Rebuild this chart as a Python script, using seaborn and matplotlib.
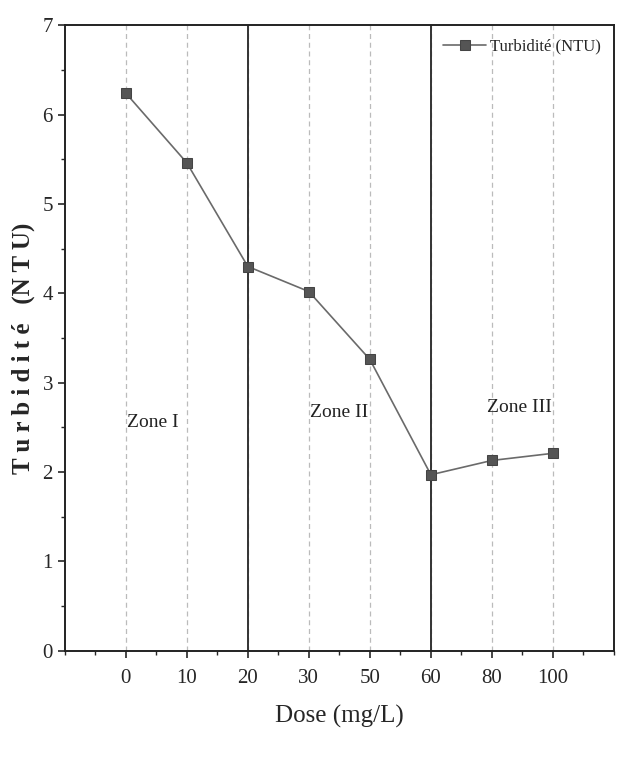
import pandas as pd
import matplotlib.pyplot as plt
import seaborn as sns
from matplotlib.ticker import MultipleLocator

# Données
doses = ["0", "10", "20", "30", "50", "60", "80", "100"]
turbidite = [6.24, 5.46, 4.30, 4.02, 3.26, 1.97, 2.13, 2.21]
zones = ["Zone I", "Zone II", "Zone III"]
zone_x = [0.45, 3.5, 6.45]
zone_y = [2.55, 2.67, 2.72]
limites = ["20", "60"]

df = pd.DataFrame({"Dose": doses, "Turbidite": turbidite})

sns.set_theme(style="ticks")
plt.rcParams["font.family"] = ["Liberation Serif", "DejaVu Serif"]

fig, ax = plt.subplots(figsize=(6.17, 7.63), dpi=100)
fig.subplots_adjust(left=0.105, right=0.995, top=0.967, bottom=0.147)

sns.lineplot(data=df, x="Dose", y="Turbidite", marker="s", markersize=7,
             color="#6a6a6a", markerfacecolor="#555555", markeredgecolor="#444444",
             linewidth=1.2, label="Turbidité (NTU)", ax=ax, sort=False)

# grille verticale pointillée
for i in range(len(doses)):
    ax.axvline(i, color="#bbbbbb", linestyle=(0, (4, 3)), linewidth=0.9, zorder=0)

# limites des zones
for d in limites:
    ax.axvline(doses.index(d), color="#333333", linewidth=1.4, zorder=1)

for z, x, y in zip(zones, zone_x, zone_y):
    ax.text(x, y, z, ha="center", va="center", fontsize=14, color="#222222")

ax.set_xlim(-1, 8)
ax.set_ylim(0, 7)
ax.yaxis.set_major_locator(MultipleLocator(1))
ax.yaxis.set_minor_locator(MultipleLocator(0.5))
ax.xaxis.set_minor_locator(MultipleLocator(0.5))
ax.tick_params(which="major", direction="out", length=5, width=1.2, labelsize=15)
ax.tick_params(which="minor", direction="out", length=3, width=1)
ax.tick_params(axis="x", pad=8)

for s in ax.spines.values():
    s.set_linewidth(1.4)
    s.set_color("#222222")

ax.set_xlabel("Dose (mg/L)", fontsize=18, labelpad=12)
ax.set_ylabel("T u r b i d i t é   (N T U)", fontsize=18, fontweight="bold")
ax.yaxis.set_label_coords(-0.055, 0.484)

leg = ax.legend(loc="upper right", frameon=False, fontsize=12,
                handlelength=2.6, handletextpad=0.2, borderaxespad=0.4)

plt.savefig("out.png", dpi=100)
